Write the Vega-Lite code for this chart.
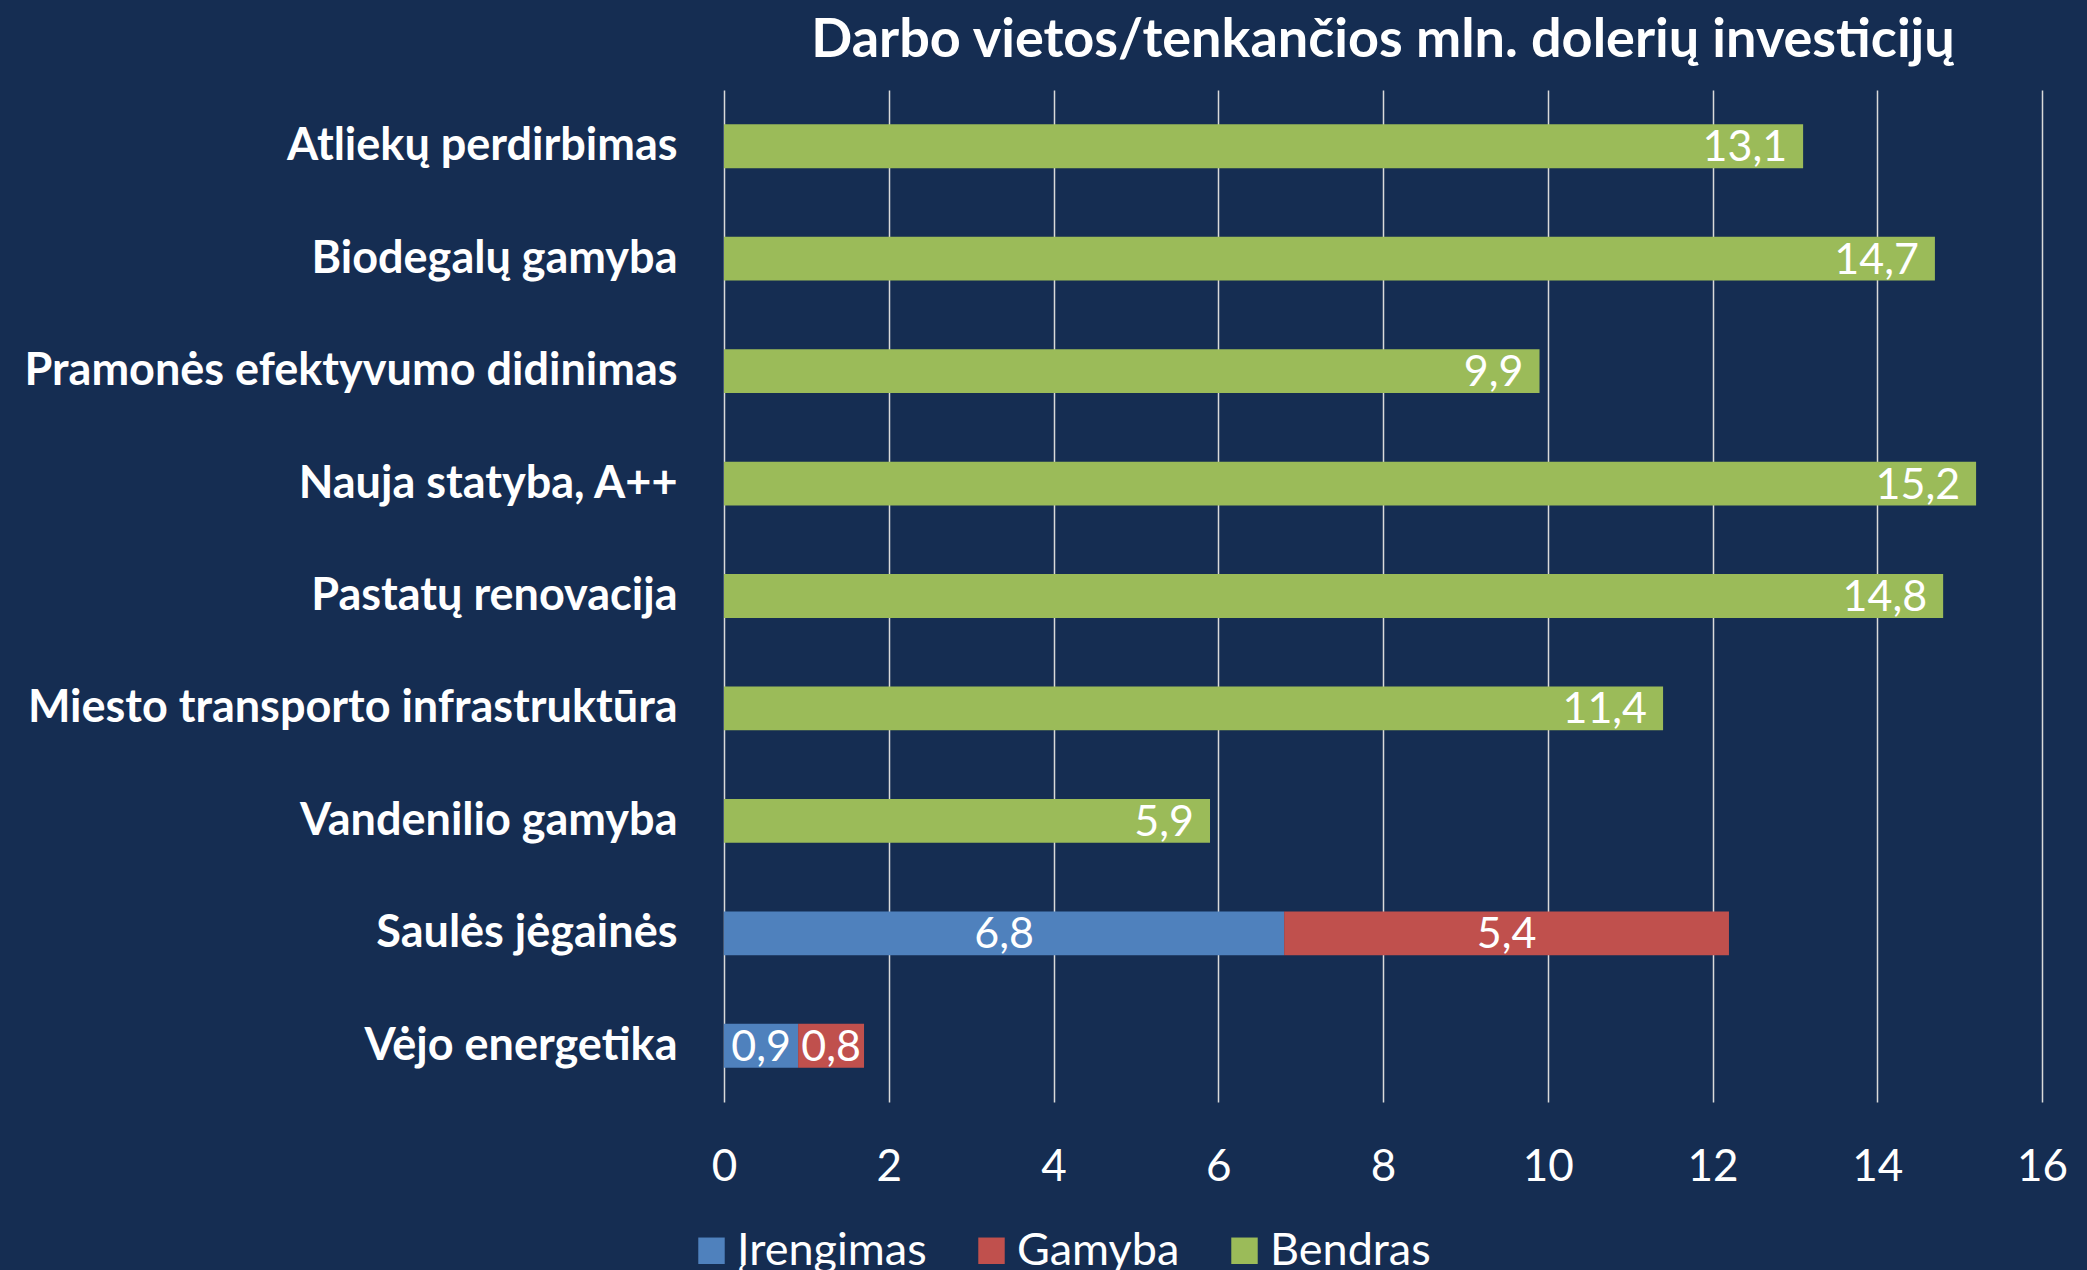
{
  "$schema": "https://vega.github.io/schema/vega-lite/v6.json",
  "width": 1318,
  "height": 1012,
  "autosize": {"type": "none"},
  "padding": {"left": 724, "top": 90, "right": 45, "bottom": 168},
  "background": "#152D52",
  "config": {
    "view": {"stroke": null},
    "font": "Lato",
    "locale": {"number": {"decimal": ",", "thousands": "\u00a0", "grouping": [3], "currency": ["", "\u00a0€"]}}
  },
  "title": {
    "text": "Darbo vietos/tenkančios mln. dolerių investicijų",
    "font": "Lato",
    "fontSize": 54,
    "fontWeight": "bold",
    "color": "#FFFFFF",
    "anchor": "middle",
    "offset": 22
  },
  "data": {
    "values": [
      {"cat": "Atliekų perdirbimas", "s": "Bendras", "v": 13.1},
      {"cat": "Biodegalų gamyba", "s": "Bendras", "v": 14.7},
      {"cat": "Pramonės efektyvumo didinimas", "s": "Bendras", "v": 9.9},
      {"cat": "Nauja statyba, A++", "s": "Bendras", "v": 15.2},
      {"cat": "Pastatų renovacija", "s": "Bendras", "v": 14.8},
      {"cat": "Miesto transporto infrastruktūra", "s": "Bendras", "v": 11.4},
      {"cat": "Vandenilio gamyba", "s": "Bendras", "v": 5.9},
      {"cat": "Saulės jėgainės", "s": "Įrengimas", "v": 6.8},
      {"cat": "Saulės jėgainės", "s": "Gamyba", "v": 5.4},
      {"cat": "Vėjo energetika", "s": "Įrengimas", "v": 0.9},
      {"cat": "Vėjo energetika", "s": "Gamyba", "v": 0.8}
    ]
  },
  "transform": [
    {"stack": "v", "groupby": ["cat"], "sort": [{"field": "s", "order": "descending"}], "as": ["v0", "v1"]},
    {"calculate": "(datum.v0 + datum.v1) / 2", "as": "vmid"}
  ],
  "encoding": {
    "y": {
      "field": "cat",
      "type": "nominal",
      "sort": null,
      "scale": {"paddingInner": 0.61, "paddingOuter": 0.305},
      "axis": {
        "title": null,
        "ticks": false,
        "domain": false,
        "grid": false,
        "labelColor": "#FFFFFF",
        "labelFont": "Lato",
        "labelFontWeight": "bold",
        "labelFontSize": 45,
        "labelPadding": 47,
        "labelLimit": 900
      }
    }
  },
  "layer": [
    {
      "mark": {"type": "bar"},
      "encoding": {
        "x": {
          "field": "v0",
          "type": "quantitative",
          "scale": {"domain": [0, 16], "nice": false},
          "axis": {
            "title": null,
            "values": [0, 2, 4, 6, 8, 10, 12, 14, 16],
            "format": "d",
            "grid": true,
            "gridColor": "#D9D9D9",
            "gridWidth": 1.5,
            "ticks": false,
            "domain": false,
            "labelColor": "#FFFFFF",
            "labelFont": "Lato",
            "labelFontSize": 44,
            "labelPadding": 43,
            "labelFlush": false
          }
        },
        "x2": {"field": "v1"},
        "color": {
          "field": "s",
          "type": "nominal",
          "scale": {"domain": ["Įrengimas", "Gamyba", "Bendras"], "range": ["#4F81BD", "#C0504D", "#9BBB59"]},
          "legend": {
            "title": null,
            "orient": "none",
            "direction": "horizontal",
            "legendX": -35,
            "legendY": 1138,
            "symbolType": "square",
            "symbolSize": 700,
            "symbolStrokeWidth": 0,
            "labelColor": "#FFFFFF",
            "labelFont": "Lato",
            "labelFontSize": 45,
            "labelOffset": 3,
            "columnPadding": 42,
            "padding": 0,
            "labelLimit": 400
          }
        }
      }
    },
    {
      "transform": [{"filter": "datum.s !== 'Bendras'"}],
      "mark": {"type": "text", "color": "#FFFFFF", "fontSize": 43, "font": "Lato", "baseline": "middle", "dy": 2},
      "encoding": {
        "x": {"field": "vmid", "type": "quantitative"},
        "text": {"field": "v", "type": "quantitative", "format": ".1f"}
      }
    },
    {
      "transform": [{"filter": "datum.s === 'Bendras'"}],
      "mark": {"type": "text", "color": "#FFFFFF", "fontSize": 43, "font": "Lato", "align": "right", "dx": -16, "baseline": "middle", "dy": 2},
      "encoding": {
        "x": {"field": "v1", "type": "quantitative"},
        "text": {"field": "v", "type": "quantitative", "format": ".1f"}
      }
    }
  ]
}
